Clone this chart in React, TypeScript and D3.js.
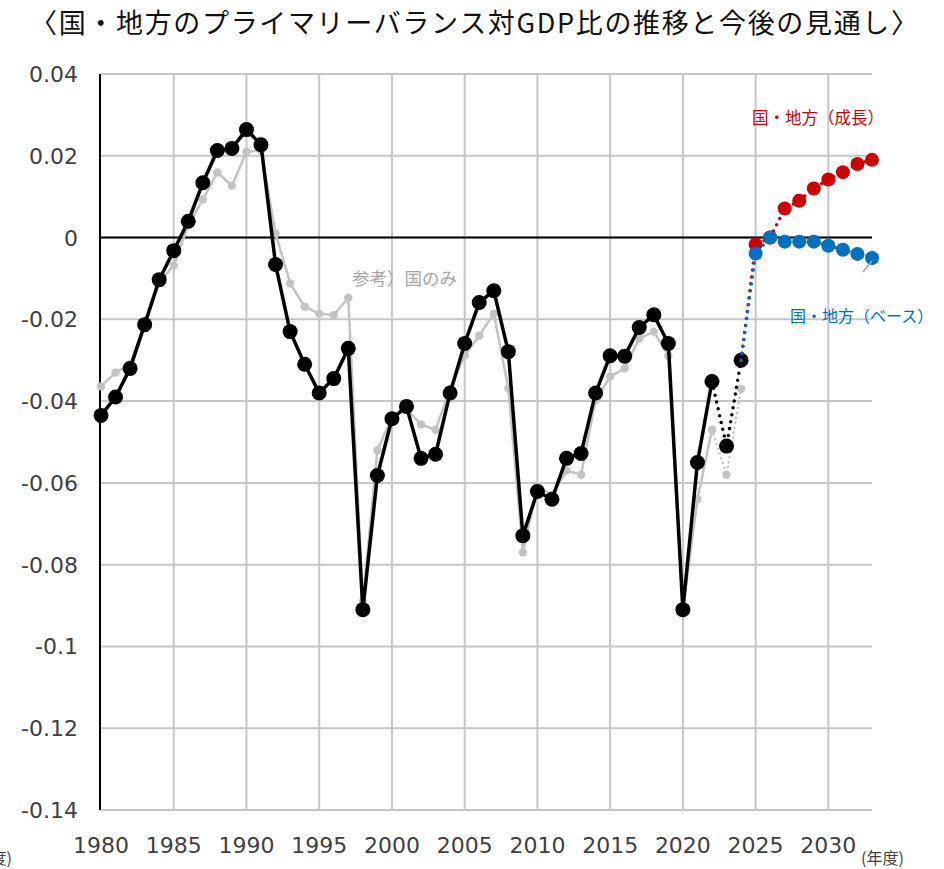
import React from "react"
import * as d3 from "d3"

// 国・地方 (実績), 国のみ (参考), and the two outlooks
const years = d3.range(1980, 2025)
const kuniChiho = [
    -0.0435, -0.039, -0.032, -0.0213, -0.0103, -0.0032, 0.004, 0.0134, 0.0213, 0.0218,
    0.0264, 0.0227, -0.0066, -0.023, -0.031, -0.038, -0.0345, -0.0271, -0.091, -0.0582,
    -0.0443, -0.0413, -0.054, -0.053, -0.038, -0.0259, -0.0159, -0.013, -0.0279, -0.0729,
    -0.0621, -0.064, -0.054, -0.0528, -0.038, -0.0289, -0.029, -0.022, -0.0189, -0.0259,
    -0.091, -0.055, -0.0352, -0.051, -0.030,
]
const kuniNomi = [
    -0.0364, -0.033, -0.031, -0.0215, -0.011, -0.0068, 0.003, 0.0093, 0.0159, 0.0127,
    0.021, 0.0213, 0.001, -0.0112, -0.0169, -0.0186, -0.019, -0.0147, -0.089, -0.052,
    -0.044, -0.042, -0.0457, -0.047, -0.037, -0.0288, -0.024, -0.0186, -0.0369, -0.077,
    -0.061, -0.063, -0.057, -0.058, -0.0398, -0.034, -0.032, -0.0247, -0.023, -0.0289,
    -0.091, -0.064, -0.047, -0.058, -0.037,
]
const outlookYears = d3.range(2024, 2034)
const seicho = [-0.030, -0.0017, 0.0, 0.0071, 0.009, 0.012, 0.0142, 0.016, 0.018, 0.019]
const base = [-0.030, -0.0039, 0.0, -0.001, -0.001, -0.001, -0.002, -0.003, -0.004, -0.005]

const yTicks = [0.04, 0.02, 0, -0.02, -0.04, -0.06, -0.08, -0.1, -0.12, -0.14]
const xTicks = [1980, 1985, 1990, 1995, 2000, 2005, 2010, 2015, 2020, 2025, 2030]

const title = "〈国・地方のプライマリーバランス対GDP比の推移と今後の見通し〉"

const W = 944
const H = 869

type Pt = [number, number]

export default function App() {
    const x = d3.scaleLinear().domain([1980, 2033]).range([101, 872])
    const y = d3.scaleLinear().domain([-0.14, 0.04]).range([810, 74])
    const line = d3.line<Pt>().x(d => x(d[0])).y(d => y(d[1]))

    const black: Pt[] = years.map((yr, i) => [yr, kuniChiho[i]])
    const gray: Pt[] = years.map((yr, i) => [yr, kuniNomi[i]])
    const red: Pt[] = outlookYears.map((yr, i) => [yr, seicho[i]])
    const blue: Pt[] = outlookYears.map((yr, i) => [yr, base[i]])

    const solidUpTo = 2022
    const solid = (pts: Pt[]) => pts.filter(p => p[0] <= solidUpTo)
    const dotted = (pts: Pt[]) => pts.filter(p => p[0] >= solidUpTo)

    const fontNum = "DejaVu Sans, Verdana, sans-serif"
    const fontJa = "'Noto Sans CJK JP', sans-serif"
    const gridColor = "#c6c6c6"

    return (
        <svg width={W} height={H} style={{ position: "absolute", left: 0, top: 0, background: "#fff" }}>
            <text x={30} y={33} fontSize={27} fontFamily={fontJa} fill="#111" textLength={888} lengthAdjust="spacing">
                {title}
            </text>

            {/* gridlines */}
            {yTicks.map(t => (
                <line key={"gy" + t} x1={x(1980)} x2={x(2033)} y1={y(t)} y2={y(t)} stroke={gridColor} strokeWidth={2} />
            ))}
            {xTicks.slice(1).map(t => (
                <line key={"gx" + t} x1={x(t)} x2={x(t)} y1={y(0.04)} y2={y(-0.14)} stroke={gridColor} strokeWidth={2} />
            ))}
            <line x1={x(1980)} x2={x(2033)} y1={y(0)} y2={y(0)} stroke="#000" strokeWidth={2} />
            <line x1={x(1980) - 1} x2={x(1980) - 1} y1={y(0.04)} y2={y(-0.14)} stroke="#000" strokeWidth={2} />

            {/* axis labels */}
            {yTicks.map(t => (
                <text key={"ly" + t} x={78} y={y(t) + 8} textAnchor="end" fontSize={22} fontFamily={fontNum} fill="#404040">
                    {String(t)}
                </text>
            ))}
            {xTicks.map(t => (
                <text key={"lx" + t} x={x(t)} y={853} textAnchor="middle" fontSize={22} fontFamily={fontNum} fill="#404040">
                    {t}
                </text>
            ))}
            <text x={861} y={864} fontSize={16} fontFamily={fontJa} fill="#404040">(年度)</text>
            <text x={12} y={864} textAnchor="end" fontSize={16} fontFamily={fontJa} fill="#404040">(年度)</text>

            {/* 国のみ */}
            <path d={line(solid(gray)) || ""} fill="none" stroke="#c3c3c3" strokeWidth={2.5} />
            <path d={line(dotted(gray)) || ""} fill="none" stroke="#c3c3c3" strokeWidth={2.5} strokeDasharray="0 5" strokeLinecap="round" />
            {gray.map(p => (
                <circle key={"g" + p[0]} cx={x(p[0])} cy={y(p[1])} r={4.2} fill="#c3c3c3" />
            ))}

            {/* 国・地方 */}
            <path d={line(solid(black)) || ""} fill="none" stroke="#000" strokeWidth={3.5} strokeLinejoin="round" />
            <path d={line(dotted(black)) || ""} fill="none" stroke="#000" strokeWidth={3.5} strokeDasharray="0 7" strokeLinecap="round" />
            {black.map(p => (
                <circle key={"b" + p[0]} cx={x(p[0])} cy={y(p[1])} r={7.5} fill="#000" />
            ))}

            {/* 成長 */}
            <path d={line(red) || ""} fill="none" stroke="#cc0000" strokeWidth={3.5} strokeDasharray="0 7" strokeLinecap="round" />
            {red.filter(p => p[0] >= 2025).map(p => (
                <circle key={"r" + p[0]} cx={x(p[0])} cy={y(p[1])} r={7} fill="#cc0000" />
            ))}

            {/* ベース */}
            <path d={line(blue) || ""} fill="none" stroke="#0070c0" strokeWidth={3.5} strokeDasharray="0 7" strokeLinecap="round" />
            {blue.filter(p => p[0] >= 2025).map(p => (
                <circle key={"bl" + p[0]} cx={x(p[0])} cy={y(p[1])} r={7} fill="#0070c0" />
            ))}

            {/* labels */}
            <text x={352} y={285} fontSize={17.5} fontFamily={fontJa} fill="#a6a6a6">参考）国のみ</text>
            <text x={752} y={124} fontSize={16.5} fontFamily={fontJa} fill="#cc0000">国・地方（成長）</text>
            <text x={790} y={322} fontSize={16} fontFamily={fontJa} fill="#0070c0">国・地方（ベース）</text>
            <line x1={863} y1={272} x2={872} y2={261} stroke="#a6a6a6" strokeWidth={1.5} />
        </svg>
    )
}
